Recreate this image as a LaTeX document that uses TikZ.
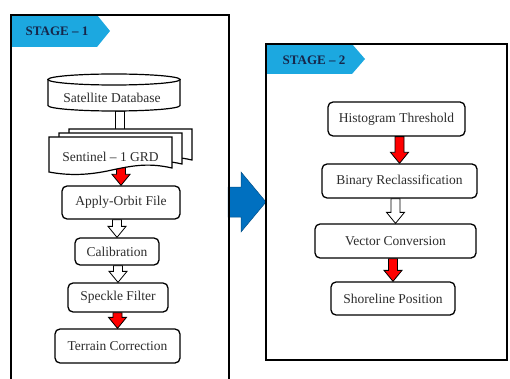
\documentclass[tikz,border=0pt]{standalone}
\usepackage{fontspec}
\setmainfont{Liberation Serif}
\usetikzlibrary{calc}
\definecolor{tagblue}{RGB}{28,168,224}
\definecolor{arrowblue}{RGB}{0,112,192}
\definecolor{navy}{RGB}{22,38,74}
\definecolor{txt}{RGB}{45,45,45}
\pgfdeclarelayer{bg}
\pgfsetlayers{bg,main}
\tikzset{
  lbl/.style={font=\fontsize{13.5}{16}\selectfont\rmfamily, text=txt},
  box/.style={lbl, draw=black, line width=1.3pt, rounded corners=5pt, fill=white, inner sep=0pt},
  frame/.style={draw=black, line width=1.4pt},
  tagfill/.style={fill=tagblue},
  tagtext/.style={font=\fontsize{13}{15}\selectfont\rmfamily\bfseries, text=navy, inner sep=0pt},
  whitearrow/.style={fill=white, draw=black, line width=0.8pt, line join=miter},
  redarrow/.style={fill=red, draw=black, line width=0.8pt, line join=miter},
  bluearrow/.style={fill=arrowblue, draw=arrowblue!70!black, line width=0.5pt},
  docstyle/.style={fill=white, draw=black, line width=1.2pt},
  cyl/.style={fill=white, draw=black, line width=1.2pt},
}
% vertical block arrow, placed at the x of the target
\newcommand\blockarrow[3]{%
  \path[#1] let \p1=(#2), \p2=(#3) in
   ({\x2-4.5pt},\y1) -- ({\x2-4.5pt},{\y2+11pt}) -- ({\x2-9pt},{\y2+11pt}) --
   (\x2,\y2) -- ({\x2+9pt},{\y2+11pt}) -- ({\x2+4.5pt},{\y2+11pt}) --
   ({\x2+4.5pt},\y1) -- cycle;}
\newcommand\docshape[1]{%
  \filldraw[docstyle, #1] (49,137) -- (172,137) -- (172,168)
    .. controls (150,163) and (135,165) .. (112,170)
    .. controls (90,175) and (70,176) .. (49,172) -- cycle;}
\begin{document}
\begin{tikzpicture}[x=1pt,y=-1pt]
\useasboundingbox (0,0) rectangle (510,379);
% stage tags
\fill[tagfill] (11,15) -- (97,15) -- (110,31) -- (97,47) -- (11,47) -- cycle;
\node[tagtext] (t1) at (57,31.5) {STAGE – 1};
\fill[tagfill] (266,44) -- (352,44) -- (365,59) -- (352,74) -- (266,74) -- cycle;
\node[tagtext] (t2) at (314,60) {STAGE – 2};
% big blue arrow between stages
\filldraw[bluearrow] (228,187) -- (241,187) -- (241,172) -- (266,202) -- (241,232) -- (241,217) -- (228,217) -- cycle;
% frames
\draw[frame] (11,381) -- (11,15) -- (229,15) -- (229,381);
\draw[frame] (266,44) rectangle (507,360);
% stage 1
\filldraw[cyl] (48,79.5) -- (48,105.5) arc[start angle=180, end angle=360, x radius=66pt, y radius=5.5pt] -- (180,79.5) -- cycle;
\filldraw[cyl] (114,79.5) ellipse [x radius=66pt, y radius=5.5pt];
\node[lbl, inner sep=0pt, minimum width=132, minimum height=26] (db) at (112,98) {Satellite Database};
\docshape{shift={(20,-8)}}
\docshape{shift={(10,-4)}}
\docshape{}
\node[lbl] (s1) at (110.5,156.5) {Sentinel – 1 GRD};
\coordinate (s1top) at (120,141);
\node[box, minimum width=118, minimum height=33] (apply) at (121,202.5) {Apply-Orbit File};
\node[box, minimum width=84, minimum height=27] (calib) at (117,251.5) {Calibration};
\node[box, minimum width=100, minimum height=29] (speckle) at (118,297.5) {Speckle Filter};
\node[box, minimum width=125, minimum height=34] (terrain) at (117.5,346) {Terrain Correction};
% stage 2
\node[box, minimum width=137, minimum height=34] (hist) at (396.5,119) {Histogram Threshold};
\node[box, minimum width=155, minimum height=34] (bin) at (399.5,181) {Binary Reclassification};
\node[box, minimum width=161, minimum height=34] (vec) at (395.5,241) {Vector Conversion};
\node[box, minimum width=124, minimum height=33] (shore) at (393,298.5) {Shoreline Position};
% connectors
\begin{pgfonlayer}{bg}
\blockarrow{whitearrow}{db.south}{s1top}
\blockarrow{redarrow}{s1.south}{apply.north}
\blockarrow{whitearrow}{apply.south}{calib.north}
\blockarrow{whitearrow}{calib.south}{speckle.north}
\blockarrow{redarrow}{speckle.south}{terrain.north}
\blockarrow{redarrow}{hist.south}{bin.north}
\blockarrow{whitearrow}{bin.south}{vec.north}
\blockarrow{redarrow}{vec.south}{shore.north}
\end{pgfonlayer}
\end{tikzpicture}
\end{document}
